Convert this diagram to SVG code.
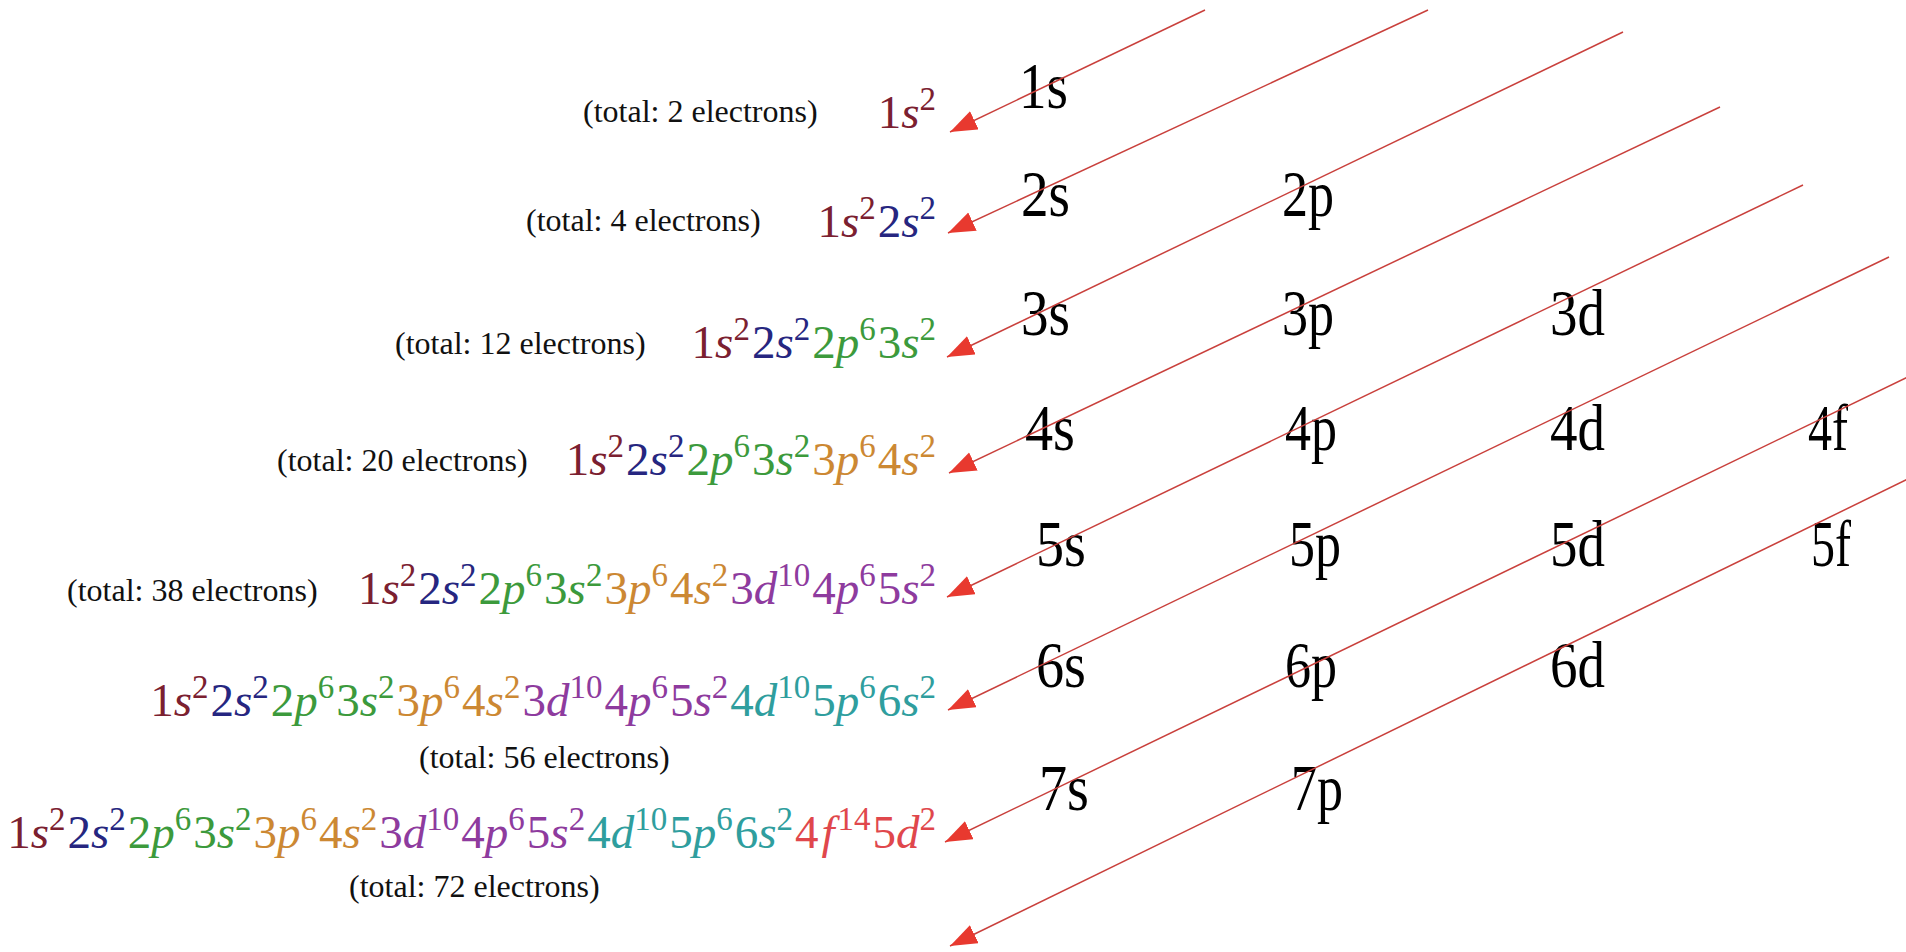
<svg xmlns="http://www.w3.org/2000/svg" width="1906" height="952" viewBox="0 0 1906 952">
<style>
.orb{font-family:"Liberation Serif","Times New Roman",serif;font-size:66px;fill:#000}
.tot{font-family:"Liberation Serif","Times New Roman",serif;font-size:32px;fill:#111}
.fm{font-family:"Liberation Serif","DejaVu Serif",serif;font-size:47px}
.i{font-style:italic}
.sp{font-size:33px}
.c1{fill:#7b2030}.c2{fill:#262680}.c3{fill:#3c9a3c}.c4{fill:#cc8833}.c5{fill:#8e3b9e}.c6{fill:#2f9e9e}.c7{fill:#e0474c}
.ar{stroke:#c9403c;stroke-width:1.5;fill:none;marker-end:url(#ah)}
</style>
<defs>
<marker id="ah" markerUnits="userSpaceOnUse" markerWidth="30" markerHeight="22" refX="27" refY="10" orient="auto"><path d="M0,0 L27,10 L0,20 Z" fill="#e8392f"/></marker>
</defs>
<rect width="1906" height="952" fill="#fff"/>
<g id="orbitals">
<g id="o1s"><text class="orb" x="1019" y="108" textLength="49" lengthAdjust="spacingAndGlyphs">1s</text></g>
<g id="o2s"><text class="orb" x="1021" y="216" textLength="49" lengthAdjust="spacingAndGlyphs">2s</text></g>
<g id="o2p"><text class="orb" x="1282" y="216" textLength="52" lengthAdjust="spacingAndGlyphs">2p</text></g>
<g id="o3s"><text class="orb" x="1021" y="335" textLength="49" lengthAdjust="spacingAndGlyphs">3s</text></g>
<g id="o3p"><text class="orb" x="1282" y="335" textLength="52" lengthAdjust="spacingAndGlyphs">3p</text></g>
<g id="o3d"><text class="orb" x="1550" y="335" textLength="55" lengthAdjust="spacingAndGlyphs">3d</text></g>
<g id="o4s"><text class="orb" x="1025" y="450" textLength="50" lengthAdjust="spacingAndGlyphs">4s</text></g>
<g id="o4p"><text class="orb" x="1285" y="450" textLength="52" lengthAdjust="spacingAndGlyphs">4p</text></g>
<g id="o4d"><text class="orb" x="1550" y="450" textLength="55" lengthAdjust="spacingAndGlyphs">4d</text></g>
<g id="o4f"><text class="orb" x="1808" y="450" textLength="40" lengthAdjust="spacingAndGlyphs">4f</text></g>
<g id="o5s"><text class="orb" x="1036" y="566" textLength="50" lengthAdjust="spacingAndGlyphs">5s</text></g>
<g id="o5p"><text class="orb" x="1289" y="566" textLength="52" lengthAdjust="spacingAndGlyphs">5p</text></g>
<g id="o5d"><text class="orb" x="1550" y="566" textLength="55" lengthAdjust="spacingAndGlyphs">5d</text></g>
<g id="o5f"><text class="orb" x="1811" y="566" textLength="40" lengthAdjust="spacingAndGlyphs">5f</text></g>
<g id="o6s"><text class="orb" x="1036" y="687" textLength="50" lengthAdjust="spacingAndGlyphs">6s</text></g>
<g id="o6p"><text class="orb" x="1285" y="687" textLength="52" lengthAdjust="spacingAndGlyphs">6p</text></g>
<g id="o6d"><text class="orb" x="1550" y="687" textLength="55" lengthAdjust="spacingAndGlyphs">6d</text></g>
<g id="o7s"><text class="orb" x="1039" y="810" textLength="50" lengthAdjust="spacingAndGlyphs">7s</text></g>
<g id="o7p"><text class="orb" x="1291" y="810" textLength="52" lengthAdjust="spacingAndGlyphs">7p</text></g>
</g>
<g id="connectors">
<line class="ar" x1="1205" y1="10" x2="950" y2="132"/>
<line class="ar" x1="1428" y1="10" x2="948" y2="233"/>
<line class="ar" x1="1623" y1="32" x2="947" y2="357"/>
<line class="ar" x1="1720" y1="107" x2="949" y2="473"/>
<line class="ar" x1="1803" y1="185" x2="947" y2="597"/>
<line class="ar" x1="1889" y1="257" x2="948" y2="710"/>
<line class="ar" x1="1910" y1="376" x2="945" y2="842"/>
<line class="ar" x1="1910" y1="478" x2="950" y2="946"/>
</g>
<g id="row1">
<text class="fm" x="936" y="128" text-anchor="end"><tspan class="c1">1</tspan><tspan class="c1 i">s</tspan><tspan class="c1 sp" dy="-18">2</tspan></text>
<text class="tot" x="583" y="122">(total: 2 electrons)</text>
</g>
<g id="row2">
<text class="fm" x="936" y="237" text-anchor="end"><tspan class="c1">1</tspan><tspan class="c1 i">s</tspan><tspan class="c1 sp" dy="-18">2</tspan><tspan class="c2" dy="18" dx="2">2</tspan><tspan class="c2 i">s</tspan><tspan class="c2 sp" dy="-18">2</tspan></text>
<text class="tot" x="526" y="231">(total: 4 electrons)</text>
</g>
<g id="row3">
<text class="fm" x="936" y="358" text-anchor="end"><tspan class="c1">1</tspan><tspan class="c1 i">s</tspan><tspan class="c1 sp" dy="-18">2</tspan><tspan class="c2" dy="18" dx="2">2</tspan><tspan class="c2 i">s</tspan><tspan class="c2 sp" dy="-18">2</tspan><tspan class="c3" dy="18" dx="2">2</tspan><tspan class="c3 i">p</tspan><tspan class="c3 sp" dy="-18">6</tspan><tspan class="c3" dy="18" dx="2">3</tspan><tspan class="c3 i">s</tspan><tspan class="c3 sp" dy="-18">2</tspan></text>
<text class="tot" x="395" y="354">(total: 12 electrons)</text>
</g>
<g id="row4">
<text class="fm" x="936" y="475" text-anchor="end"><tspan class="c1">1</tspan><tspan class="c1 i">s</tspan><tspan class="c1 sp" dy="-18">2</tspan><tspan class="c2" dy="18" dx="2">2</tspan><tspan class="c2 i">s</tspan><tspan class="c2 sp" dy="-18">2</tspan><tspan class="c3" dy="18" dx="2">2</tspan><tspan class="c3 i">p</tspan><tspan class="c3 sp" dy="-18">6</tspan><tspan class="c3" dy="18" dx="2">3</tspan><tspan class="c3 i">s</tspan><tspan class="c3 sp" dy="-18">2</tspan><tspan class="c4" dy="18" dx="2">3</tspan><tspan class="c4 i">p</tspan><tspan class="c4 sp" dy="-18">6</tspan><tspan class="c4" dy="18" dx="2">4</tspan><tspan class="c4 i">s</tspan><tspan class="c4 sp" dy="-18">2</tspan></text>
<text class="tot" x="277" y="471">(total: 20 electrons)</text>
</g>
<g id="row5">
<text class="fm" x="936" y="604" text-anchor="end"><tspan class="c1">1</tspan><tspan class="c1 i">s</tspan><tspan class="c1 sp" dy="-18">2</tspan><tspan class="c2" dy="18" dx="2">2</tspan><tspan class="c2 i">s</tspan><tspan class="c2 sp" dy="-18">2</tspan><tspan class="c3" dy="18" dx="2">2</tspan><tspan class="c3 i">p</tspan><tspan class="c3 sp" dy="-18">6</tspan><tspan class="c3" dy="18" dx="2">3</tspan><tspan class="c3 i">s</tspan><tspan class="c3 sp" dy="-18">2</tspan><tspan class="c4" dy="18" dx="2">3</tspan><tspan class="c4 i">p</tspan><tspan class="c4 sp" dy="-18">6</tspan><tspan class="c4" dy="18" dx="2">4</tspan><tspan class="c4 i">s</tspan><tspan class="c4 sp" dy="-18">2</tspan><tspan class="c5" dy="18" dx="2">3</tspan><tspan class="c5 i">d</tspan><tspan class="c5 sp" dy="-18">10</tspan><tspan class="c5" dy="18" dx="2">4</tspan><tspan class="c5 i">p</tspan><tspan class="c5 sp" dy="-18">6</tspan><tspan class="c5" dy="18" dx="2">5</tspan><tspan class="c5 i">s</tspan><tspan class="c5 sp" dy="-18">2</tspan></text>
<text class="tot" x="67" y="601">(total: 38 electrons)</text>
</g>
<g id="row6">
<text class="fm" x="936" y="716" text-anchor="end"><tspan class="c1">1</tspan><tspan class="c1 i">s</tspan><tspan class="c1 sp" dy="-18">2</tspan><tspan class="c2" dy="18" dx="2">2</tspan><tspan class="c2 i">s</tspan><tspan class="c2 sp" dy="-18">2</tspan><tspan class="c3" dy="18" dx="2">2</tspan><tspan class="c3 i">p</tspan><tspan class="c3 sp" dy="-18">6</tspan><tspan class="c3" dy="18" dx="2">3</tspan><tspan class="c3 i">s</tspan><tspan class="c3 sp" dy="-18">2</tspan><tspan class="c4" dy="18" dx="2">3</tspan><tspan class="c4 i">p</tspan><tspan class="c4 sp" dy="-18">6</tspan><tspan class="c4" dy="18" dx="2">4</tspan><tspan class="c4 i">s</tspan><tspan class="c4 sp" dy="-18">2</tspan><tspan class="c5" dy="18" dx="2">3</tspan><tspan class="c5 i">d</tspan><tspan class="c5 sp" dy="-18">10</tspan><tspan class="c5" dy="18" dx="2">4</tspan><tspan class="c5 i">p</tspan><tspan class="c5 sp" dy="-18">6</tspan><tspan class="c5" dy="18" dx="2">5</tspan><tspan class="c5 i">s</tspan><tspan class="c5 sp" dy="-18">2</tspan><tspan class="c6" dy="18" dx="2">4</tspan><tspan class="c6 i">d</tspan><tspan class="c6 sp" dy="-18">10</tspan><tspan class="c6" dy="18" dx="2">5</tspan><tspan class="c6 i">p</tspan><tspan class="c6 sp" dy="-18">6</tspan><tspan class="c6" dy="18" dx="2">6</tspan><tspan class="c6 i">s</tspan><tspan class="c6 sp" dy="-18">2</tspan></text>
<text class="tot" x="419" y="768">(total: 56 electrons)</text>
</g>
<g id="row7">
<text class="fm" x="936" y="848" text-anchor="end"><tspan class="c1">1</tspan><tspan class="c1 i">s</tspan><tspan class="c1 sp" dy="-18">2</tspan><tspan class="c2" dy="18" dx="2">2</tspan><tspan class="c2 i">s</tspan><tspan class="c2 sp" dy="-18">2</tspan><tspan class="c3" dy="18" dx="2">2</tspan><tspan class="c3 i">p</tspan><tspan class="c3 sp" dy="-18">6</tspan><tspan class="c3" dy="18" dx="2">3</tspan><tspan class="c3 i">s</tspan><tspan class="c3 sp" dy="-18">2</tspan><tspan class="c4" dy="18" dx="2">3</tspan><tspan class="c4 i">p</tspan><tspan class="c4 sp" dy="-18">6</tspan><tspan class="c4" dy="18" dx="2">4</tspan><tspan class="c4 i">s</tspan><tspan class="c4 sp" dy="-18">2</tspan><tspan class="c5" dy="18" dx="2">3</tspan><tspan class="c5 i">d</tspan><tspan class="c5 sp" dy="-18">10</tspan><tspan class="c5" dy="18" dx="2">4</tspan><tspan class="c5 i">p</tspan><tspan class="c5 sp" dy="-18">6</tspan><tspan class="c5" dy="18" dx="2">5</tspan><tspan class="c5 i">s</tspan><tspan class="c5 sp" dy="-18">2</tspan><tspan class="c6" dy="18" dx="2">4</tspan><tspan class="c6 i">d</tspan><tspan class="c6 sp" dy="-18">10</tspan><tspan class="c6" dy="18" dx="2">5</tspan><tspan class="c6 i">p</tspan><tspan class="c6 sp" dy="-18">6</tspan><tspan class="c6" dy="18" dx="2">6</tspan><tspan class="c6 i">s</tspan><tspan class="c6 sp" dy="-18">2</tspan><tspan class="c7" dy="18" dx="2">4</tspan><tspan class="c7 i" dx="3">f</tspan><tspan class="c7 sp" dy="-18" dx="3">14</tspan><tspan class="c7" dy="18" dx="2">5</tspan><tspan class="c7 i">d</tspan><tspan class="c7 sp" dy="-18">2</tspan></text>
<text class="tot" x="349" y="897">(total: 72 electrons)</text>
</g>
</svg>
